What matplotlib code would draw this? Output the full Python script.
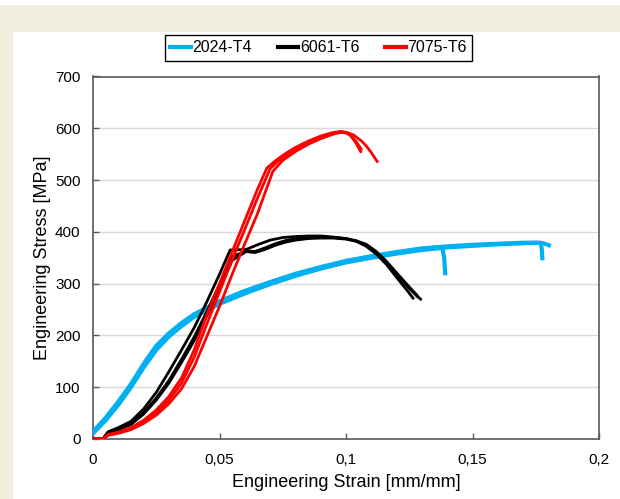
import matplotlib
matplotlib.use("Agg")
import matplotlib.pyplot as plt
from matplotlib.patches import Rectangle
from matplotlib.ticker import FixedLocator
from matplotlib.lines import Line2D

plt.rcParams['font.family'] = ['Liberation Sans', 'DejaVu Sans']

# ---------------- data ----------------
# 2024-T4 (blue)
blue_a_strain = [0, 0.005, 0.01, 0.015, 0.02, 0.025, 0.03, 0.035, 0.04, 0.05, 0.06, 0.07, 0.08, 0.09, 0.1, 0.11, 0.12, 0.13, 0.138, 0.1388, 0.1392]
blue_a_stress = [12, 38, 68, 102, 140, 175, 200, 220, 238, 263, 283, 301, 317, 330, 342, 352, 360, 367, 371, 350, 320]
blue_b_strain = [0, 0.005, 0.01, 0.015, 0.02, 0.025, 0.03, 0.035, 0.04, 0.05, 0.06, 0.07, 0.08, 0.09, 0.1, 0.11, 0.12, 0.13, 0.14, 0.15, 0.16, 0.17, 0.177, 0.1774, 0.1776]
blue_b_stress = [14, 41, 72, 106, 145, 180, 204, 224, 241, 266, 286, 303, 319, 332, 344, 353, 361, 368, 372, 375, 377, 379, 379, 365, 349]
blue_c_strain = [0, 0.005, 0.01, 0.015, 0.02, 0.025, 0.03, 0.035, 0.04, 0.05, 0.06, 0.07, 0.08, 0.09, 0.1, 0.11, 0.12, 0.13, 0.14, 0.15, 0.16, 0.17, 0.175, 0.178, 0.1802]
blue_c_stress = [11, 36, 66, 100, 138, 172, 198, 218, 236, 261, 281, 299, 315, 329, 341, 350, 358, 365, 370, 373, 376, 378, 379, 378, 374]

# 6061-T6 (black)
black_a_strain = [0, 0.004, 0.006, 0.01, 0.015, 0.02, 0.025, 0.03, 0.035, 0.04, 0.045, 0.05, 0.0542, 0.0605, 0.065, 0.07, 0.075, 0.08, 0.085, 0.09, 0.095, 0.1, 0.104, 0.108, 0.112, 0.116, 0.12, 0.124, 0.1265]
black_a_stress = [0, 1, 14, 22, 34, 58, 90, 130, 172, 215, 265, 318, 365, 366, 375, 384, 389, 391, 392, 392, 390, 387, 382, 372, 357, 337, 312, 288, 272]
black_b_strain = [0, 0.004, 0.006, 0.01, 0.015, 0.02, 0.025, 0.03, 0.035, 0.04, 0.045, 0.05, 0.055, 0.0605, 0.064, 0.068, 0.072, 0.076, 0.08, 0.085, 0.09, 0.095, 0.1, 0.104, 0.108, 0.112, 0.116, 0.12, 0.124, 0.128, 0.1295]
black_b_stress = [0, 0, 12, 18, 28, 48, 75, 108, 148, 190, 238, 290, 345, 362, 360, 366, 374, 380, 384, 387, 388, 388, 386, 382, 374, 360, 341, 318, 296, 276, 270]
black_c_strain = [0, 0.004, 0.006, 0.01, 0.015, 0.02, 0.025, 0.03, 0.035, 0.04, 0.045, 0.05, 0.055, 0.0605, 0.064, 0.068, 0.072, 0.076, 0.08, 0.085, 0.09, 0.095, 0.1, 0.104, 0.108, 0.112, 0.116, 0.12, 0.124, 0.128, 0.1283]
black_c_stress = [0, 0, 13, 19, 30, 51, 79, 113, 154, 197, 246, 298, 352, 363, 362, 369, 377, 383, 387, 389, 390, 389, 387, 383, 376, 362, 343, 321, 299, 278, 276]

# 7075-T6 (red)
red_a_strain = [0, 0.004, 0.006, 0.01, 0.015, 0.02, 0.025, 0.03, 0.035, 0.04, 0.045, 0.05, 0.0553, 0.06, 0.065, 0.0687, 0.072, 0.076, 0.08, 0.085, 0.09, 0.095, 0.098, 0.1, 0.102, 0.104, 0.1058]
red_a_stress = [0, 0, 9, 13, 22, 36, 56, 82, 118, 172, 240, 300, 365, 422, 482, 523, 537, 551, 563, 575, 585, 592, 594, 592, 585, 571, 555]
red_b_strain = [0, 0.004, 0.006, 0.01, 0.015, 0.02, 0.025, 0.03, 0.035, 0.04, 0.045, 0.05, 0.055, 0.06, 0.065, 0.07, 0.073, 0.077, 0.081, 0.086, 0.091, 0.095, 0.098, 0.1, 0.102, 0.104, 0.106]
red_b_stress = [0, 0, 8, 12, 20, 33, 51, 75, 108, 158, 222, 284, 346, 405, 465, 522, 536, 549, 561, 573, 583, 589, 592, 591, 586, 574, 560]
red_c_strain = [0, 0.004, 0.006, 0.01, 0.015, 0.02, 0.025, 0.03, 0.035, 0.04, 0.045, 0.05, 0.055, 0.06, 0.065, 0.0711, 0.075, 0.08, 0.085, 0.09, 0.095, 0.0976, 0.1004, 0.103, 0.106, 0.108, 0.11, 0.1123]
red_c_stress = [0, 0, 7, 11, 18, 30, 46, 68, 97, 140, 198, 256, 318, 377, 435, 517, 538, 555, 569, 580, 589, 593, 592, 587, 576, 566, 553, 536]

x_ticks = [0, 0.05, 0.1, 0.15, 0.2]
x_tick_labels = ["0", "0,05", "0,1", "0,15", "0,2"]
y_ticks = [0, 100, 200, 300, 400, 500, 600, 700]
series_names = ["2024-T4", "6061-T6", "7075-T6"]

BLUE = "#00B0F0"
BLACK = "#000000"
RED = "#FF0000"

# ---------------- figure ----------------
W, H = 620, 499
fig = plt.figure(figsize=(W / 100, H / 100), dpi=100)
fig.patch.set_facecolor("#F2EFDF")

bg = fig.add_axes([0, 0, 1, 1], zorder=-10)
bg.set_xlim(0, W)
bg.set_ylim(H, 0)
bg.axis("off")
bg.add_patch(Rectangle((13, 32), W - 13, H - 32, facecolor="white", edgecolor="none"))
bg.add_patch(Rectangle((0, 0), W, 5, facecolor="white", edgecolor="none"))

ax = fig.add_axes([93 / W, 1 - 439 / H, (599 - 93) / W, (439 - 76.5) / H], zorder=1)
ax.set_facecolor("white")

for s, v in [(blue_a_strain, blue_a_stress), (blue_b_strain, blue_b_stress), (blue_c_strain, blue_c_stress)]:
    ax.plot(s, v, color=BLUE, lw=3.0, zorder=3)
for s, v in [(black_a_strain, black_a_stress), (black_b_strain, black_b_stress), (black_c_strain, black_c_stress)]:
    ax.plot(s, v, color=BLACK, lw=2.0, zorder=4)
for s, v in [(red_a_strain, red_a_stress), (red_b_strain, red_b_stress), (red_c_strain, red_c_stress)]:
    ax.plot(s, v, color=RED, lw=2.0, zorder=5)

ax.set_xlim(0, 0.2)
ax.set_ylim(0, 700)
ax.xaxis.set_major_locator(FixedLocator(x_ticks))
ax.set_xticklabels(x_tick_labels)
ax.yaxis.set_major_locator(FixedLocator(y_ticks))
ax.yaxis.grid(True, color="#D9D9D9", lw=1)
ax.set_axisbelow(True)
ax.tick_params(direction="in", length=4, width=1, color="#595959", labelsize=11,
               labelcolor="black")
ax.tick_params(axis="x", pad=10)
ax.tick_params(axis="y", pad=9)
for sp in ax.spines.values():
    sp.set_color("#595959")
    sp.set_linewidth(1.2)

ax.set_xlabel("Engineering Strain [mm/mm]", fontsize=13, labelpad=5)
ax.set_ylabel("Engineering Stress [MPa]", fontsize=13, labelpad=3)

handles = [Line2D([], [], color=BLUE, lw=3), Line2D([], [], color=BLACK, lw=3), Line2D([], [], color=RED, lw=3)]
leg = fig.legend(handles, series_names, loc="center",
                 bbox_to_anchor=(318.5 / W, 1 - 48 / H), ncol=3, fontsize=11.5,
                 frameon=True, fancybox=False, edgecolor="black", framealpha=1,
                 handlelength=1.3, handletextpad=0.1, columnspacing=1.6,
                 borderpad=0.35)
leg.get_frame().set_linewidth(1.0)

fig.savefig("out.png", dpi=100, facecolor=fig.get_facecolor())
